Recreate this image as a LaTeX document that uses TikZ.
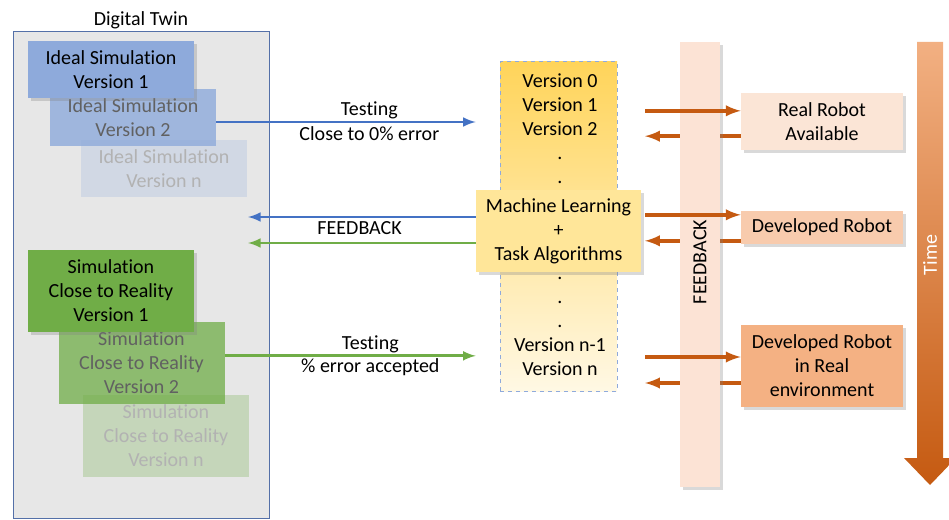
\documentclass[tikz,border=0pt]{standalone}
\usepackage{fontspec}
\setmainfont{Carlito}[Ligatures=NoCommon]
\usetikzlibrary{positioning,shapes,arrows,calc,shadows}
\definecolor{SimBlue}{RGB}{142,170,219}
\definecolor{SimGreen}{RGB}{112,173,71}
\definecolor{LineBlue}{RGB}{68,114,196}
\definecolor{RustOrange}{RGB}{197,90,17}
\definecolor{TwinGray}{RGB}{231,231,231}
\definecolor{TwinEdge}{RGB}{84,112,168}
\definecolor{MLYellow}{RGB}{255,230,153}
\definecolor{VerTop}{RGB}{255,212,90}
\definecolor{VerBottom}{RGB}{255,248,228}
\definecolor{VerEdge}{RGB}{143,170,220}
\definecolor{FeedPink}{RGB}{252,227,213}
\definecolor{RobotA}{RGB}{251,229,214}
\definecolor{RobotB}{RGB}{248,203,173}
\definecolor{RobotC}{RGB}{244,177,131}
\definecolor{TimeTop}{RGB}{242,176,130}

\begin{document}
\begin{tikzpicture}[
    x=0.75pt, y=-0.75pt,
    every node/.style={font=\fontsize{15}{18}\selectfont},
    simbox/.style={rectangle, minimum width=124.5pt, align=center, inner sep=0pt},
    idealbox/.style={simbox, minimum height=42.75pt, fill=SimBlue},
    closebox/.style={simbox, minimum height=61.5pt, fill=SimGreen},
    softshadow/.style={drop shadow={opacity=0.3, shadow xshift=2pt, shadow yshift=-2pt}},
    robotbox/.style={rectangle, minimum width=121.5pt, align=center, inner sep=0pt, softshadow},
    bline/.style={draw=LineBlue, line width=2.2pt, ->, >=latex},
    gline/.style={draw=SimGreen, line width=2.2pt, ->, >=latex},
    oline/.style={draw=RustOrange, line width=2.8pt, ->, >=latex}
]
\useasboundingbox (0,0) rectangle (949,520);

% Place nodes
\node [rectangle, draw=TwinEdge, line width=0.75pt, fill=TwinGray, minimum width=192pt, minimum height=364.5pt, inner sep=0pt] (twin) at (141,275) {};
\node [above=1pt of twin, inner sep=1pt] (twinlabel) {Digital Twin};

\node [idealbox, fill opacity=0.24, text opacity=1, text=black!30] (isimn) at (164,168.5) {Ideal Simulation\\Version n};
\node [idealbox, fill opacity=0.8, text opacity=1, text=black!62] (isim2) at (133,118) {Ideal Simulation\\Version 2};
\node [idealbox, softshadow] (isim1) at (111,69.5) {Ideal Simulation\\Version 1};

\node [closebox, fill opacity=0.28, text opacity=1, text=black!30] (csimn) at (166,436) {Simulation\\Close to Reality\\Version n};
\node [closebox, fill opacity=0.75, text opacity=1, text=black!62] (csim2) at (141.5,362.5) {Simulation\\Close to Reality\\Version 2};
\node [closebox, softshadow] (csim1) at (111,291) {Simulation\\Close to Reality\\Version 1};

\node [rectangle, draw=VerEdge, dashed, line width=0.75pt, top color=VerTop, bottom color=VerBottom, minimum width=87.75pt, minimum height=246.75pt, inner sep=0pt] (ver) at (558.5,226.5) {};
\node [align=center] (vtop) at (560,129) {Version 0\\Version 1\\Version 2\\.\\.};
\node [align=center] (vbot) at (560,326) {.\\.\\.\\Version n-1\\Version n};
\node [rectangle, fill=MLYellow, softshadow, minimum width=123.75pt, minimum height=61.5pt, align=center, inner sep=0pt] (ml) at (558.5,231) {Machine Learning\\+\\Task Algorithms};

\node [robotbox, fill=RobotA, minimum height=42.75pt] (rr) at (822,121.5) {Real Robot\\Available};
\node [robotbox, fill=RobotB, minimum height=24.75pt] (dr) at (822,227.5) {Developed Robot};
\node [robotbox, fill=RobotC, minimum height=61.5pt] (dre) at (822,366) {Developed Robot\\in Real\\environment};

\coordinate (fbend) at (248,0);
\coordinate (ostart) at (645,0);

% Draw edges
\draw [bline] ([yshift=-3pt]isim2.east) -- ([yshift=-3pt]isim2.east -| ml.west)
    node [pos=0.59, above, inner sep=1pt] {Testing}
    node [pos=0.59, below, inner sep=2pt] {Close to 0\% error};
\draw [gline] ([yshift=5pt]csim2.east) -- ([yshift=5pt]csim2.east -| ml.west)
    node [pos=0.58, above, inner sep=1pt] {Testing}
    node [pos=0.58, below, inner sep=1pt] {\% error accepted};
\draw [bline] ([yshift=10.5pt]ml.west) -- ([yshift=10.5pt]ml.west -| fbend)
    node [pos=0.51, below, inner sep=2pt] {FEEDBACK};
\draw [gline] ([yshift=-9pt]ml.west) -- ([yshift=-9pt]ml.west -| fbend);

% feedback going back, behind the bar
\draw [oline] ([yshift=-11pt]rr.west) -- ([yshift=-11pt]rr.west -| ostart);
\draw [oline] ([yshift=-10pt]dr.west) -- ([yshift=-10pt]dr.west -| ostart);
\draw [oline] ([yshift=-12.75pt]dre.west) -- ([yshift=-12.75pt]dre.west -| ostart);

\node [rectangle, fill=FeedPink, softshadow, minimum width=30pt, minimum height=333.75pt, inner sep=0pt] (fbar) at (700,264.5) {};
\node [rotate=90] (fbtext) at (700,262) {FEEDBACK};

\draw [oline] ([yshift=8pt]rr.west -| ostart) -- ([yshift=8pt]rr.west);
\draw [oline] ([yshift=9.5pt]dr.west -| ostart) -- ([yshift=9.5pt]dr.west);
\draw [oline] ([yshift=6.75pt]dre.west -| ostart) -- ([yshift=6.75pt]dre.west);

% time arrow
\shade [top color=TimeTop, bottom color=RustOrange] (917,42) -- (943,42) -- (943,458) -- (956,458) -- (930,485) -- (904,458) -- (917,458) -- cycle;
\node [rotate=90, text=white] (time) at (930,255) {Time};
\end{tikzpicture}
\end{document}
